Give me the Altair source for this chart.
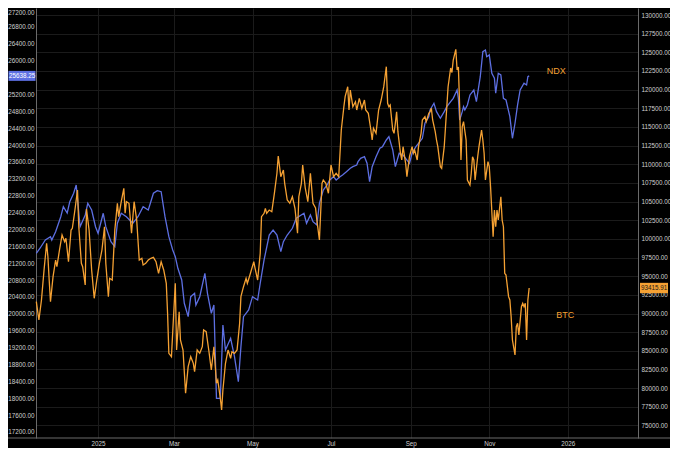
import altair as alt
import pandas as pd

# ---------------- data ----------------
ndx_dates = [
    "2024-11-14", "2024-11-17", "2024-11-21", "2024-11-25", "2024-11-26", "2024-11-29",
    "2024-12-03", "2024-12-05", "2024-12-08", "2024-12-10", "2024-12-13", "2024-12-15",
    "2024-12-18", "2024-12-22", "2024-12-24", "2024-12-27", "2024-12-30", "2025-01-01",
    "2025-01-05", "2025-01-07", "2025-01-11", "2025-01-14", "2025-01-16", "2025-01-19",
    "2025-01-23", "2025-01-28", "2025-02-01", "2025-02-05", "2025-02-09", "2025-02-13",
    "2025-02-16", "2025-02-19", "2025-02-22", "2025-02-25", "2025-02-28", "2025-03-02",
    "2025-03-04", "2025-03-07", "2025-03-09", "2025-03-12", "2025-03-14", "2025-03-17",
    "2025-03-18", "2025-03-21", "2025-03-25", "2025-03-27", "2025-03-30", "2025-04-01",
    "2025-04-03", "2025-04-06", "2025-04-08", "2025-04-10", "2025-04-14", "2025-04-17",
    "2025-04-20", "2025-04-22", "2025-04-24", "2025-04-28", "2025-05-01", "2025-05-05",
    "2025-05-07", "2025-05-10", "2025-05-14", "2025-05-17", "2025-05-20", "2025-05-23",
    "2025-05-25", "2025-05-28", "2025-06-01", "2025-06-04", "2025-06-10", "2025-06-12",
    "2025-06-15", "2025-06-17", "2025-06-20", "2025-06-22", "2025-06-25", "2025-06-28",
    "2025-06-30", "2025-07-03", "2025-07-05", "2025-07-08", "2025-07-10", "2025-07-13",
    "2025-07-16", "2025-07-18", "2025-07-21", "2025-07-22", "2025-07-24", "2025-07-27",
    "2025-07-29", "2025-07-31", "2025-08-02", "2025-08-05", "2025-08-08", "2025-08-10",
    "2025-08-13", "2025-08-15", "2025-08-18", "2025-08-20", "2025-08-23", "2025-08-26",
    "2025-08-28", "2025-08-31", "2025-09-02", "2025-09-05", "2025-09-07", "2025-09-10",
    "2025-09-12", "2025-09-15", "2025-09-16", "2025-09-19", "2025-09-21", "2025-09-24",
    "2025-09-27", "2025-09-29", "2025-10-02", "2025-10-04", "2025-10-07", "2025-10-08",
    "2025-10-09", "2025-10-11", "2025-10-12", "2025-10-13", "2025-10-15", "2025-10-17",
    "2025-10-20", "2025-10-22", "2025-10-25", "2025-10-27", "2025-10-29", "2025-10-30",
    "2025-11-01", "2025-11-03", "2025-11-05", "2025-11-06", "2025-11-08", "2025-11-10",
    "2025-11-12", "2025-11-14", "2025-11-17", "2025-11-19", "2025-11-21", "2025-11-23",
    "2025-11-25", "2025-11-28", "2025-11-30", "2025-12-01", "2025-12-02",
]
ndx_values = [
    21434, 21559, 21749, 21827, 21749, 21946,
    22301, 22538, 22389, 22657, 22856, 23052,
    22064, 22341, 22619, 22460, 22064, 21908,
    22382, 22064, 21709, 21590, 22145, 22382,
    22301, 22145, 22301, 22538, 22460, 22856,
    22917, 22894, 22301, 21827, 21512, 21353,
    21078, 20801, 20249, 19931, 20405, 20486,
    20208, 20405, 20960, 20486, 20012, 20208,
    17997, 17997, 19734, 19142, 19419, 18983,
    18391, 19220, 19931, 20090, 20405, 20327,
    20723, 21275, 21867, 21986, 21867, 21472,
    21709, 21867, 22026, 22263, 22382, 22145,
    22341, 22183, 22104, 22619, 22934, 23052,
    23171, 23249, 23171, 23249, 23289, 23368,
    23448, 23486, 23526, 23605, 23685, 23723,
    23567, 23131, 23486, 23723, 23922, 23960,
    24119, 24197, 23882, 23486, 23804, 23763,
    23685, 23567, 23804, 23960, 24041, 24159,
    24515, 24671, 24830, 24989, 24790, 24633,
    24790, 24908, 25027, 25107, 25304, 25107,
    24593, 24790, 24908, 24830, 24949, 25186,
    25304, 25027, 25619, 26212, 26252, 26093,
    26134, 25700, 25581, 25226, 25700, 25660,
    25107, 25067, 24671, 24159, 24515, 24949,
    25304, 25463, 25422, 25619, 25638.25,
]

btc_dates = [
    "2024-11-14", "2024-11-16", "2024-11-18", "2024-11-20", "2024-11-22", "2024-11-23",
    "2024-11-24", "2024-11-25", "2024-11-27", "2024-11-29", "2024-11-30", "2024-12-02",
    "2024-12-04", "2024-12-06", "2024-12-07", "2024-12-09", "2024-12-11", "2024-12-12",
    "2024-12-14", "2024-12-16", "2024-12-17", "2024-12-19", "2024-12-20", "2024-12-22",
    "2024-12-23", "2024-12-25", "2024-12-27", "2024-12-29", "2024-12-31", "2025-01-02",
    "2025-01-04", "2025-01-06", "2025-01-07", "2025-01-09", "2025-01-10", "2025-01-12",
    "2025-01-14", "2025-01-16", "2025-01-17", "2025-01-19", "2025-01-21", "2025-01-22",
    "2025-01-23", "2025-01-25", "2025-01-27", "2025-01-29", "2025-01-31", "2025-02-02",
    "2025-02-04", "2025-02-05", "2025-02-07", "2025-02-09", "2025-02-11", "2025-02-13",
    "2025-02-15", "2025-02-17", "2025-02-19", "2025-02-21", "2025-02-23", "2025-02-24",
    "2025-02-25", "2025-02-27", "2025-03-02", "2025-03-03", "2025-03-05", "2025-03-06",
    "2025-03-08", "2025-03-10", "2025-03-12", "2025-03-14", "2025-03-16", "2025-03-17",
    "2025-03-19", "2025-03-21", "2025-03-23", "2025-03-24", "2025-03-26", "2025-03-28",
    "2025-03-30", "2025-04-01", "2025-04-03", "2025-04-04", "2025-04-06", "2025-04-07",
    "2025-04-08", "2025-04-10", "2025-04-12", "2025-04-14", "2025-04-15", "2025-04-17",
    "2025-04-19", "2025-04-21", "2025-04-22", "2025-04-24", "2025-04-26", "2025-04-27",
    "2025-04-29", "2025-05-02", "2025-05-03", "2025-05-05", "2025-05-07", "2025-05-08",
    "2025-05-10", "2025-05-11", "2025-05-12", "2025-05-14", "2025-05-16", "2025-05-18",
    "2025-05-20", "2025-05-21", "2025-05-23", "2025-05-25", "2025-05-26", "2025-05-28",
    "2025-05-30", "2025-06-01", "2025-06-03", "2025-06-05", "2025-06-06", "2025-06-08",
    "2025-06-09", "2025-06-11", "2025-06-13", "2025-06-15", "2025-06-17", "2025-06-19",
    "2025-06-20", "2025-06-22", "2025-06-24", "2025-06-25", "2025-06-27", "2025-06-29",
    "2025-07-01", "2025-07-03", "2025-07-05", "2025-07-07", "2025-07-09", "2025-07-11",
    "2025-07-12", "2025-07-14", "2025-07-15", "2025-07-16", "2025-07-18", "2025-07-20",
    "2025-07-21", "2025-07-23", "2025-07-25", "2025-07-27", "2025-07-28", "2025-07-30",
    "2025-08-01", "2025-08-02", "2025-08-03", "2025-08-05", "2025-08-07", "2025-08-09",
    "2025-08-11", "2025-08-13", "2025-08-14", "2025-08-15", "2025-08-16", "2025-08-18",
    "2025-08-19", "2025-08-20", "2025-08-21", "2025-08-22", "2025-08-24", "2025-08-25",
    "2025-08-26", "2025-08-28", "2025-08-29", "2025-08-30", "2025-08-31", "2025-09-02",
    "2025-09-03", "2025-09-04", "2025-09-06", "2025-09-07", "2025-09-09", "2025-09-10",
    "2025-09-12", "2025-09-13", "2025-09-15", "2025-09-16", "2025-09-17", "2025-09-18",
    "2025-09-20", "2025-09-21", "2025-09-22", "2025-09-24", "2025-09-25", "2025-09-27",
    "2025-09-28", "2025-09-29", "2025-09-30", "2025-10-02", "2025-10-03", "2025-10-04",
    "2025-10-06", "2025-10-07", "2025-10-08", "2025-10-09", "2025-10-10", "2025-10-11",
    "2025-10-12", "2025-10-14", "2025-10-15", "2025-10-17", "2025-10-18", "2025-10-19",
    "2025-10-20", "2025-10-21", "2025-10-23", "2025-10-24", "2025-10-26", "2025-10-27",
    "2025-10-28", "2025-10-29", "2025-10-31", "2025-11-01", "2025-11-02", "2025-11-04",
    "2025-11-05", "2025-11-06", "2025-11-07", "2025-11-08", "2025-11-10", "2025-11-11",
    "2025-11-12", "2025-11-13", "2025-11-14", "2025-11-16", "2025-11-17", "2025-11-18",
    "2025-11-19", "2025-11-21", "2025-11-22", "2025-11-23", "2025-11-24", "2025-11-26",
    "2025-11-27", "2025-11-28", "2025-11-29", "2025-11-30", "2025-12-01", "2025-12-02",
]
btc_values = [
    91582, 89130, 91810, 95830, 99408, 97612,
    94490, 91582, 94932, 97170, 96272, 98510,
    100520, 99622, 100078, 96942, 101190, 101418,
    103870, 106550, 101632, 96728, 96272, 93820,
    104000, 101190, 95830, 92038, 94490, 96728,
    98510, 101632, 96728, 92252, 94718, 94490,
    101190, 104768, 102972, 104982, 106778, 103428,
    104982, 104768, 100748, 104982, 102530, 97170,
    97398, 96500, 96728, 97170, 97398, 97532,
    96942, 95388, 96942, 95830, 94048, 90028,
    84668, 84212, 94048, 85110, 90242, 86450,
    85110, 79308, 82872, 84212, 83328, 82202,
    85110, 84668, 85552, 87790, 87562, 85110,
    82430, 85552, 80648, 81090, 78638, 77070,
    79750, 83328, 85110, 83998, 84882, 84668,
    85110, 88688, 92252, 93592, 94718, 94048,
    95160, 96942, 96058, 94490, 98068, 102972,
    103428, 104098, 103428, 103870, 103642, 106108,
    108788, 111106, 108332, 109230, 107448, 105210,
    104768, 105652, 104098, 100748, 105652, 107448,
    109900, 106818, 104982, 108788, 104768, 104138,
    102530, 99850, 107448, 107890, 107448, 106108,
    109900, 108332, 108788, 108332, 114590, 117712,
    119052, 120392, 117270, 119950, 117712, 118382,
    117270, 118838, 117498, 118610, 117270, 116828,
    114590, 113250, 114818, 114148, 117270, 118610,
    120392, 123072, 118168, 117712, 117940, 114590,
    114148, 115488, 117042, 114362, 111468, 110570,
    112352, 110128, 108332, 109672, 111012, 112352,
    111468, 111910, 110570, 112352, 114148, 115930,
    116372, 115702, 116828, 117042, 117498, 115930,
    114362, 113250, 112352, 109672, 109458, 112352,
    115032, 117712, 120392, 122898, 122295, 123970,
    125404, 122630, 123032, 117712, 110570, 115032,
    115702, 113250, 107890, 107220, 108788, 111012,
    110570, 107890, 111012, 112352, 114590, 113250,
    111468, 107890, 110342, 109672, 106992, 100292,
    103870, 101632, 103870, 102530, 105652, 102530,
    101632, 95388, 95160, 92252, 91810, 89572,
    86450, 84440, 88232, 88688, 87120, 90912,
    91368, 90912, 91368, 86450, 91810, 93415.91,
]

ndx_last = [25638.25]
btc_last = [93415.91]
series_names = ["NDX", "BTC"]
name_dates = ["2025-12-23", "2025-12-30"]
name_values = [25754, 89800]

# 25600 sits under the NDX price tag in the reference, so it is not shown
left_ticks = [v for v in range(17200, 27201, 400) if v != 25600]
right_ticks = list(range(75000, 130001, 2500))
x_tick_dates = [(2025, 1), (2025, 3), (2025, 5), (2025, 7), (2025, 9), (2025, 11), (2026, 1)]

# ---------------- styling ----------------
BG = "#000000"
BLUE = "#5d6fe2"
ORANGE = "#f5a133"
AXIS_LINE = "#6a6a6a"
GRID = "#1b1b1b"
LABEL = "#cfcfcf"
FONT = "Liberation Sans"
FS = 6.3
W, H = 602, 430
BOX = "M-1,-0.37H1V0.37H-1Z"

ndx_df = pd.DataFrame({"date": ndx_dates, "value": ndx_values})
btc_df = pd.DataFrame({"date": btc_dates, "value": btc_values})
ndx_last_df = pd.DataFrame({"value": ndx_last})
btc_last_df = pd.DataFrame({"value": btc_last})
ndx_name_df = pd.DataFrame({"date": [name_dates[0]], "value": [name_values[0]], "name": [series_names[0]]})
btc_name_df = pd.DataFrame({"date": [name_dates[1]], "value": [name_values[1]], "name": [series_names[1]]})

x_enc = alt.X(
    "date:T",
    title=None,
    scale=alt.Scale(
        type="utc",
        domain=[
            alt.DateTime(year=2024, month=11, date=13, hours=18, utc=True),
            alt.DateTime(year=2026, month=2, date=24, hours=14, utc=True),
        ],
    ),
    axis=alt.Axis(
        values=[alt.DateTime(year=y, month=m, date=1, utc=True) for y, m in x_tick_dates],
        labelExpr="utcFormat(datum.value, '%m') == '01' ? utcFormat(datum.value, '%Y') : utcFormat(datum.value, '%b')",
        domain=False, ticks=False, grid=True, gridColor=GRID, gridWidth=1,
        labelColor=LABEL, labelFont=FONT, labelFontSize=FS, labelPadding=2,
        labelFlush=False, zindex=0,
    ),
)

y_left = alt.Y(
    "value:Q", title=None,
    scale=alt.Scale(domain=[17056, 27247], zero=False, nice=False),
    axis=alt.Axis(
        orient="left", values=left_ticks, format=".2f", ticks=False, grid=False,
        domain=True, domainColor=AXIS_LINE, domainWidth=1,
        labelColor=LABEL, labelFont=FONT, labelFontSize=FS, labelPadding=2,
        labelFlush=False, zindex=0,
        labelBaseline=alt.condition("datum.value >= 27200", alt.value("top"), alt.value("middle")),
    ),
)
y_right = alt.Y(
    "value:Q", title=None,
    scale=alt.Scale(domain=[73318, 130938], zero=False, nice=False),
    axis=alt.Axis(
        orient="right", values=right_ticks, format=".2f", ticks=False,
        grid=True, gridColor=GRID, gridWidth=1,
        domain=True, domainColor=AXIS_LINE, domainWidth=1,
        labelColor=LABEL, labelFont=FONT, labelFontSize=FS, labelPadding=3,
        labelFlush=False, zindex=0,
    ),
)

bottom_line = alt.Chart(ndx_last_df).mark_rule(color=AXIS_LINE, strokeWidth=1).encode(
    x=alt.value(-28), x2=alt.value(W + 32), y=alt.value(H)
)

ndx_line = alt.Chart(ndx_df).mark_line(color=BLUE, strokeWidth=1.3).encode(x=x_enc, y=y_left)
ndx_box = alt.Chart(ndx_last_df).mark_point(
    shape=BOX, size=729, filled=True, opacity=1, color=BLUE, strokeWidth=0
).encode(x=alt.value(-14), y=y_left)
ndx_box_text = alt.Chart(ndx_last_df).mark_text(
    font=FONT, fontSize=FS, color="#ffffff", align="center", baseline="middle"
).encode(x=alt.value(-14), y=y_left, text=alt.Text("value:Q", format=".2f"))
ndx_name = alt.Chart(ndx_name_df).mark_text(
    font=FONT, fontSize=9, color=ORANGE, align="center", baseline="middle"
).encode(x=x_enc, y=y_left, text="name:N")

btc_line = alt.Chart(btc_df).mark_line(color=ORANGE, strokeWidth=1.3).encode(x=x_enc, y=y_right)
btc_box = alt.Chart(btc_last_df).mark_point(
    shape=BOX, size=784, filled=True, opacity=1, color=ORANGE, strokeWidth=0
).encode(x=alt.value(W + 16), y=y_right)
btc_box_text = alt.Chart(btc_last_df).mark_text(
    font=FONT, fontSize=FS, color="#1a1a1a", align="center", baseline="middle"
).encode(x=alt.value(W + 16), y=y_right, text=alt.Text("value:Q", format=".2f"))
btc_name = alt.Chart(btc_name_df).mark_text(
    font=FONT, fontSize=9, color=ORANGE, align="center", baseline="middle"
).encode(x=x_enc, y=y_right, text="name:N")

left = alt.layer(ndx_line, ndx_box, ndx_box_text, ndx_name, bottom_line)
right = alt.layer(btc_line, btc_box, btc_box_text, btc_name)

chart = (
    alt.layer(left, right)
    .resolve_scale(y="independent")
    .properties(
        width=W, height=H, background=BG,
        padding={"left": 28, "right": 32, "top": 0, "bottom": 10},
        autosize=alt.AutoSizeParams(type="none"),
    )
    .configure_view(stroke=None)
)

chart.save("out.html", embed_options={"renderer": "svg", "actions": False})
